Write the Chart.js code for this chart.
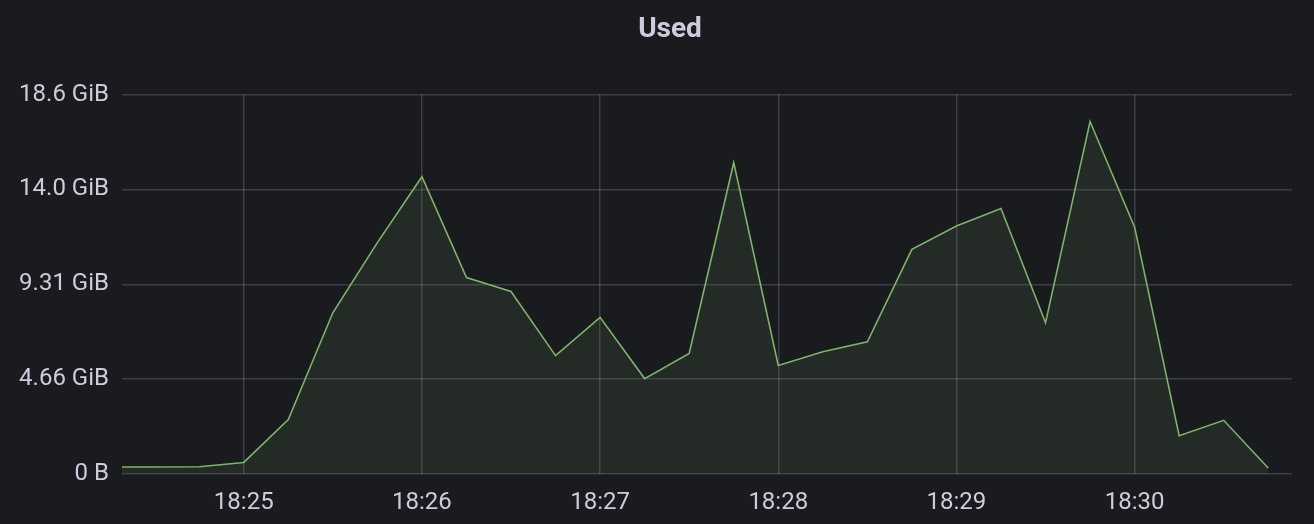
<!DOCTYPE html>
<html>
<head>
<meta charset="utf-8">
<script src="https://cdn.jsdelivr.net/npm/chart.js@4/dist/chart.umd.min.js"></script>
<style>
  html, body { margin: 0; padding: 0; background: #1a1b1f; }
  #wrap { width: 1314px; height: 524px; }
</style>
</head>
<body>
<div id="wrap"><canvas id="usedChart"></canvas></div>
<script>
// seconds after 18:24:00, one sample every 15s
const sampleSeconds = [15, 30, 45, 60, 75, 90, 105, 120, 135, 150, 165, 180, 195, 210, 225, 240,
    255, 270, 285, 300, 315, 330, 345, 360, 375, 390, 405];
// used memory in GB (1e9 bytes)
const usedGB = [0.37, 0.37, 0.38, 0.61, 2.87, 8.5, 12.2, 15.67, 10.36, 9.62, 6.24, 8.26, 5.03, 6.35,
    16.41, 5.72, 6.44, 6.97, 11.84, 13.07, 14.0, 7.97, 18.58, 13.01, 2.02, 2.83, 0.32];
const tickSeconds = [60, 120, 180, 240, 300, 360];
const tickLabels = ['18:25', '18:26', '18:27', '18:28', '18:29', '18:30'];
const yTicksGB = [0, 5, 10, 15, 20];

const textColor = '#ccccdc';
const gridColor = 'rgba(204, 204, 220, 0.2)';

function formatBytes(gb) {
    if (gb === 0) return '0 B';
    const gib = gb * 1e9 / Math.pow(2, 30);
    return gib.toPrecision(3) + ' GiB';
}

const points = sampleSeconds.map((s, i) => ({ x: s, y: usedGB[i] }));

// panel title is centred on the panel, not on the y axis + plot
const shiftTitle = {
    id: 'shiftTitle',
    afterLayout(chart) {
        if (chart.titleBlock) chart.titleBlock.left = 48;
    }
};

const ctx = document.getElementById('usedChart').getContext('2d');
new Chart(ctx, {
    type: 'line',
    data: {
        datasets: [{
            label: 'Used',
            data: points,
            borderColor: '#7eb26d',
            backgroundColor: 'rgba(126, 178, 109, 0.1)',
            borderWidth: 1.6,
            fill: 'origin',
            pointRadius: 0,
            tension: 0
        }]
    },
    options: {
        responsive: true,
        maintainAspectRatio: false,
        animation: false,
        layout: { padding: { left: 0, right: 22, top: 0, bottom: 0 } },
        plugins: {
            legend: { display: false },
            tooltip: { enabled: false },
            title: {
                display: true,
                text: 'Used',
                color: textColor,
                font: { family: 'Roboto', size: 28, weight: 'bold', lineHeight: 1.2 },
                padding: { top: 13, bottom: 48 }
            }
        },
        scales: {
            x: {
                type: 'linear',
                min: 19,
                max: 413,
                afterBuildTicks: function (scale) {
                    scale.ticks = tickSeconds.map(v => ({ value: v }));
                },
                afterFit: function (scale) { scale.height = 50; },
                ticks: {
                    color: textColor,
                    font: { family: 'Roboto', size: 24 },
                    padding: 15,
                    maxRotation: 0,
                    autoSkip: false,
                    callback: function (value) {
                        const i = tickSeconds.indexOf(value);
                        return i >= 0 ? tickLabels[i] : '';
                    }
                },
                grid: { color: gridColor, drawTicks: false, lineWidth: 1.5 },
                border: { display: false }
            },
            y: {
                min: 0,
                max: 20,
                afterBuildTicks: function (scale) {
                    scale.ticks = yTicksGB.map(v => ({ value: v }));
                },
                afterFit: function (scale) { scale.width = 122; },
                ticks: {
                    color: textColor,
                    font: { family: 'Roboto', size: 24 },
                    padding: 13,
                    callback: function (value) { return formatBytes(value); }
                },
                grid: { color: gridColor, drawTicks: false, lineWidth: 1.5 },
                border: { display: false }
            }
        }
    },
    plugins: [shiftTitle]
});
</script>
</body>
</html>
